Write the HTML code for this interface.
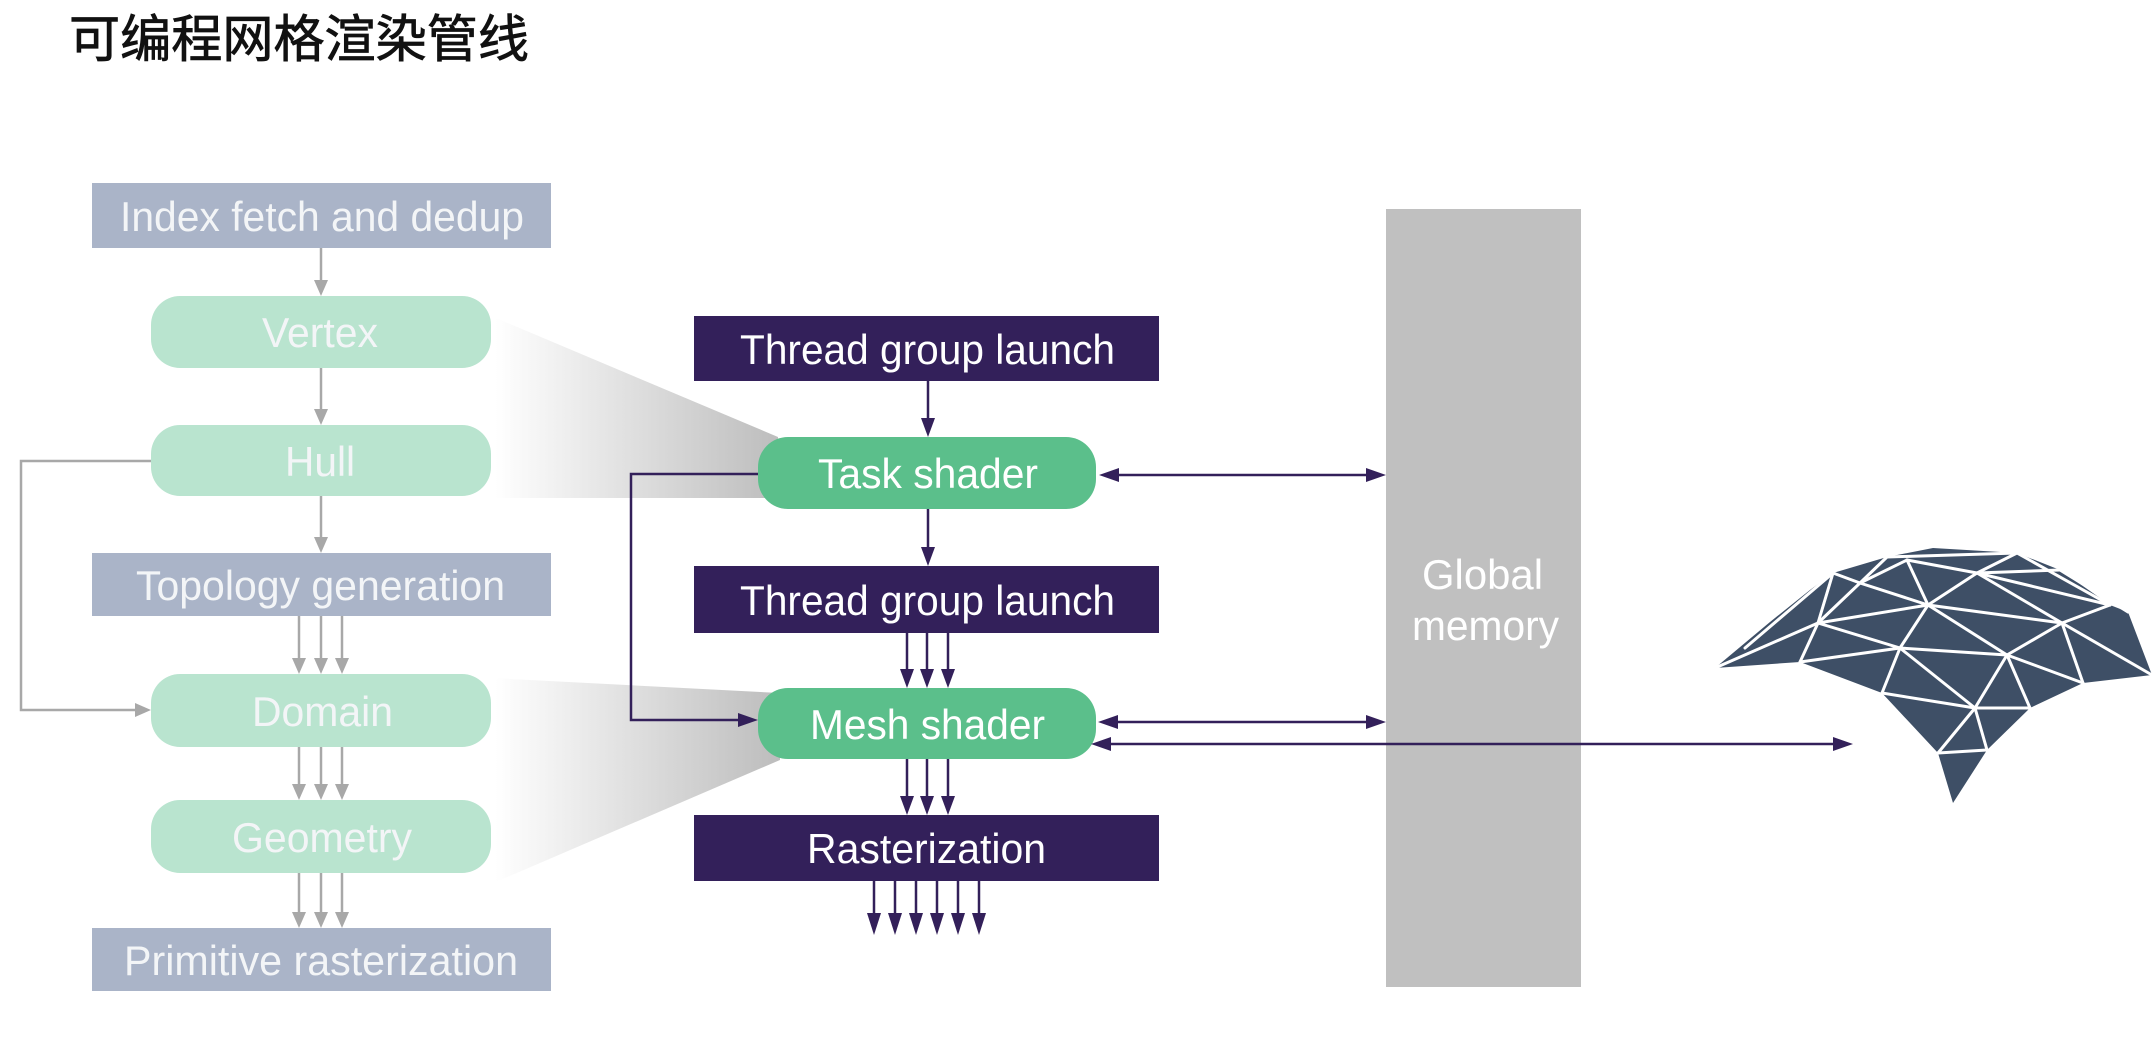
<!DOCTYPE html>
<html>
<head>
<meta charset="utf-8">
<style>
  html,body{margin:0;padding:0;background:#fff;}
  svg{display:block;}
  .lbl{font-family:"Liberation Sans",Arial,sans-serif;font-size:42px;}
</style>
</head>
<body>
<svg width="2156" height="1063" viewBox="0 0 2156 1063" xmlns="http://www.w3.org/2000/svg">
  <defs>
    <linearGradient id="g1" gradientUnits="userSpaceOnUse" x1="495" y1="0" x2="778" y2="0">
      <stop offset="0" stop-color="#ffffff"/>
      <stop offset="1" stop-color="#bdbdbd"/>
    </linearGradient>
  </defs>
  <rect width="2156" height="1063" fill="#fff"/>

  <text x="69" y="57" font-family="'Liberation Sans','Noto Sans CJK SC',sans-serif" font-size="51" fill="#111" stroke="#111" stroke-width="0.8" textLength="460" lengthAdjust="spacingAndGlyphs">可编程网格渲染管线</text>

  <polygon points="491,316 778,437 778,498 491,498" fill="url(#g1)"/>
  <polygon points="491,678 780,693 780,760 491,884" fill="url(#g1)"/>

  <rect x="1386" y="209" width="195" height="778" fill="#c0c0c0"/>
  <text class="lbl" x="1422" y="589" fill="#fff" textLength="121" lengthAdjust="spacingAndGlyphs">Global</text>
  <text class="lbl" x="1412" y="640" fill="#fff" textLength="147" lengthAdjust="spacingAndGlyphs">memory</text>

  <g fill="#aab4c8">
    <rect x="92" y="183" width="459" height="65"/>
    <rect x="92" y="553" width="459" height="63"/>
    <rect x="92" y="928" width="459" height="63"/>
  </g>
  <g fill="#b9e4cf">
    <rect x="151" y="296" width="340" height="72" rx="29"/>
    <rect x="151" y="425" width="340" height="71" rx="29"/>
    <rect x="151" y="674" width="340" height="73" rx="29"/>
    <rect x="151" y="800" width="340" height="73" rx="29"/>
  </g>
  <g fill="#f3f5f7">
    <text class="lbl" x="120" y="231" textLength="404" lengthAdjust="spacingAndGlyphs">Index fetch and dedup</text>
    <text class="lbl" x="262" y="347" textLength="116" lengthAdjust="spacingAndGlyphs">Vertex</text>
    <text class="lbl" x="285" y="476" textLength="70" lengthAdjust="spacingAndGlyphs">Hull</text>
    <text class="lbl" x="136" y="600" textLength="369" lengthAdjust="spacingAndGlyphs">Topology generation</text>
    <text class="lbl" x="252" y="726" textLength="141" lengthAdjust="spacingAndGlyphs">Domain</text>
    <text class="lbl" x="232" y="852" textLength="180" lengthAdjust="spacingAndGlyphs">Geometry</text>
    <text class="lbl" x="124" y="975" textLength="394" lengthAdjust="spacingAndGlyphs">Primitive rasterization</text>
  </g>

  <g stroke="#a8a8a8" stroke-width="2.5" fill="none">
    <line x1="321" y1="248" x2="321" y2="282"/>
    <line x1="321" y1="368" x2="321" y2="411"/>
    <line x1="321" y1="496" x2="321" y2="539"/>
    <line x1="299" y1="616" x2="299" y2="660"/>
    <line x1="321" y1="616" x2="321" y2="660"/>
    <line x1="342" y1="616" x2="342" y2="660"/>
    <line x1="299" y1="747" x2="299" y2="786"/>
    <line x1="321" y1="747" x2="321" y2="786"/>
    <line x1="342" y1="747" x2="342" y2="786"/>
    <line x1="299" y1="873" x2="299" y2="914"/>
    <line x1="321" y1="873" x2="321" y2="914"/>
    <line x1="342" y1="873" x2="342" y2="914"/>
    <polyline points="151,461 21,461 21,710 137,710"/>
  </g>
  <g fill="#a8a8a8">
    <polygon points="314,280 328,280 321,296"/>
    <polygon points="314,409 328,409 321,425"/>
    <polygon points="314,537 328,537 321,553"/>
    <polygon points="292,658 306,658 299,674"/>
    <polygon points="314,658 328,658 321,674"/>
    <polygon points="335,658 349,658 342,674"/>
    <polygon points="292,784 306,784 299,800"/>
    <polygon points="314,784 328,784 321,800"/>
    <polygon points="335,784 349,784 342,800"/>
    <polygon points="292,912 306,912 299,928"/>
    <polygon points="314,912 328,912 321,928"/>
    <polygon points="335,912 349,912 342,928"/>
    <polygon points="135,703 135,717 151,710"/>
  </g>

  <g fill="#33205a">
    <rect x="694" y="316" width="465" height="65"/>
    <rect x="694" y="566" width="465" height="67"/>
    <rect x="694" y="815" width="465" height="66"/>
  </g>
  <g fill="#5bbf8b">
    <rect x="758" y="437" width="338" height="72" rx="30"/>
    <rect x="758" y="688" width="338" height="71" rx="30"/>
  </g>
  <g fill="#ffffff">
    <text class="lbl" x="740" y="364" textLength="375" lengthAdjust="spacingAndGlyphs">Thread group launch</text>
    <text class="lbl" x="818" y="488" textLength="220" lengthAdjust="spacingAndGlyphs">Task shader</text>
    <text class="lbl" x="740" y="615" textLength="375" lengthAdjust="spacingAndGlyphs">Thread group launch</text>
    <text class="lbl" x="810" y="739" textLength="235" lengthAdjust="spacingAndGlyphs">Mesh shader</text>
    <text class="lbl" x="807" y="863" textLength="239" lengthAdjust="spacingAndGlyphs">Rasterization</text>
  </g>

  <g stroke="#33205a" stroke-width="2.5" fill="none">
    <line x1="928" y1="381" x2="928" y2="420"/>
    <line x1="928" y1="509" x2="928" y2="549"/>
    <line x1="907" y1="633" x2="907" y2="671"/>
    <line x1="927" y1="633" x2="927" y2="671"/>
    <line x1="948" y1="633" x2="948" y2="671"/>
    <line x1="907" y1="759" x2="907" y2="798"/>
    <line x1="927" y1="759" x2="927" y2="798"/>
    <line x1="948" y1="759" x2="948" y2="798"/>
    <line x1="874" y1="881" x2="874" y2="917"/>
    <line x1="895" y1="881" x2="895" y2="917"/>
    <line x1="916" y1="881" x2="916" y2="917"/>
    <line x1="937" y1="881" x2="937" y2="917"/>
    <line x1="958" y1="881" x2="958" y2="917"/>
    <line x1="979" y1="881" x2="979" y2="917"/>
    <polyline points="758,474 631,474 631,720 740,720"/>
    <line x1="1116" y1="475" x2="1368" y2="475"/>
    <line x1="1116" y1="722" x2="1368" y2="722"/>
    <line x1="1108" y1="744" x2="1835" y2="744"/>
  </g>
  <g fill="#33205a">
    <polygon points="921,418 935,418 928,437"/>
    <polygon points="921,547 935,547 928,566"/>
    <polygon points="900,669 914,669 907,688"/>
    <polygon points="920,669 934,669 927,688"/>
    <polygon points="941,669 955,669 948,688"/>
    <polygon points="900,796 914,796 907,815"/>
    <polygon points="920,796 934,796 927,815"/>
    <polygon points="941,796 955,796 948,815"/>
    <polygon points="867,913 881,913 874,935"/>
    <polygon points="888,913 902,913 895,935"/>
    <polygon points="909,913 923,913 916,935"/>
    <polygon points="930,913 944,913 937,935"/>
    <polygon points="951,913 965,913 958,935"/>
    <polygon points="972,913 986,913 979,935"/>
    <polygon points="738,713 738,727 758,720"/>
    <polygon points="1119,468 1119,482 1099,475"/>
    <polygon points="1366,468 1366,482 1386,475"/>
    <polygon points="1118,715 1118,729 1098,722"/>
    <polygon points="1366,715 1366,729 1386,722"/>
    <polygon points="1111,737 1111,751 1091,744"/>
    <polygon points="1833,737 1833,751 1853,744"/>
  </g>

  <polygon points="1715,668 1770,622 1810,590 1833,573 1887,557 1933,548 2017,553 2060,570 2110,605 2128,612 2152,675 2083,683 2030,708 1987,750 1953,803 1938,753 1882,693 1800,662" fill="#3e4f66"/>
  <g stroke="#ffffff" stroke-width="3" stroke-linecap="round" fill="none">
    <line x1="1715" y1="668" x2="1818" y2="623"/>
    <line x1="1745" y1="648" x2="1833" y2="573"/>
    <line x1="1800" y1="662" x2="1818" y2="623"/>
    <line x1="1818" y1="623" x2="1833" y2="573"/>
    <line x1="1818" y1="623" x2="1860" y2="583"/>
    <line x1="1833" y1="573" x2="1860" y2="583"/>
    <line x1="1860" y1="583" x2="1887" y2="557"/>
    <line x1="1860" y1="583" x2="1907" y2="560"/>
    <line x1="1860" y1="583" x2="1928" y2="605"/>
    <line x1="1818" y1="623" x2="1928" y2="605"/>
    <line x1="1818" y1="623" x2="1900" y2="648"/>
    <line x1="1800" y1="662" x2="1900" y2="648"/>
    <line x1="1900" y1="648" x2="1882" y2="693"/>
    <line x1="1900" y1="648" x2="1928" y2="605"/>
    <line x1="1928" y1="605" x2="1907" y2="560"/>
    <line x1="1928" y1="605" x2="1977" y2="573"/>
    <line x1="1907" y1="560" x2="1977" y2="573"/>
    <line x1="1887" y1="557" x2="2017" y2="553"/>
    <line x1="1977" y1="573" x2="2017" y2="553"/>
    <line x1="1977" y1="573" x2="2060" y2="570"/>
    <line x1="1977" y1="573" x2="2062" y2="623"/>
    <line x1="1928" y1="605" x2="2062" y2="623"/>
    <line x1="1928" y1="605" x2="2007" y2="655"/>
    <line x1="1900" y1="648" x2="2007" y2="655"/>
    <line x1="1900" y1="648" x2="1975" y2="708"/>
    <line x1="1882" y1="693" x2="1975" y2="708"/>
    <line x1="2007" y1="655" x2="1975" y2="708"/>
    <line x1="2007" y1="655" x2="2062" y2="623"/>
    <line x1="2007" y1="655" x2="2083" y2="683"/>
    <line x1="2007" y1="655" x2="2030" y2="708"/>
    <line x1="1975" y1="708" x2="2030" y2="708"/>
    <line x1="1975" y1="708" x2="1938" y2="753"/>
    <line x1="1975" y1="708" x2="1987" y2="750"/>
    <line x1="1938" y1="753" x2="1987" y2="750"/>
    <line x1="2062" y1="623" x2="2083" y2="683"/>
    <line x1="2062" y1="623" x2="2152" y2="675"/>
    <line x1="2062" y1="623" x2="2110" y2="605"/>
    <line x1="1977" y1="573" x2="2110" y2="605"/>
    <line x1="2017" y1="553" x2="2110" y2="605"/>
    <line x1="2060" y1="570" x2="2128" y2="612"/>
  </g>
</svg>
</body>
</html>
